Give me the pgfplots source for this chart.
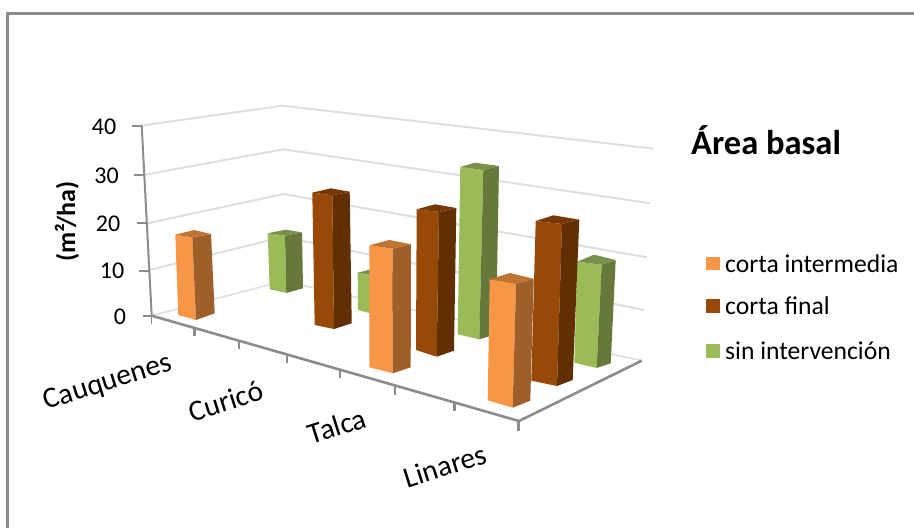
\documentclass[border=0pt]{standalone}
\usepackage{fontspec}
\setmainfont{Carlito}
\usepackage{pgfplots}
\pgfplotsset{compat=1.18}
\definecolor{oF}{HTML}{F79646}\definecolor{oS}{HTML}{9E5F2B}\definecolor{oT}{HTML}{BF7434}
\definecolor{bF}{HTML}{984807}\definecolor{bS}{HTML}{622E04}\definecolor{bT}{HTML}{763804}
\definecolor{gF}{HTML}{9BBB59}\definecolor{gS}{HTML}{66793A}\definecolor{gT}{HTML}{76924A}
\definecolor{gridc}{HTML}{DEDEDE}\definecolor{edge}{HTML}{8C8C8C}
% One bar on screen: top-back, top-left, top-mid, top-right, bottom-left, bottom-mid, bottom-right
\newcommand{\barbox}[8]{%
  \addplot[draw=none,fill=#1F] coordinates {#3 #4 #7 #6};
  \addplot[draw=none,fill=#1S] coordinates {#4 #5 #8 #7};
  \addplot[draw=none,fill=#1T] coordinates {#3 #4 #5 #2};
}
\begin{document}
\begin{tikzpicture}
\useasboundingbox (0,0) rectangle (914pt,528pt);
\begin{axis}[
  at={(0,0)},anchor=south west,
  width=914pt,height=528pt,scale only axis,
  xmin=0,xmax=914,ymin=0,ymax=528,y dir=reverse,
  hide axis,clip=true]
% chart frame
\addplot[edge,line width=3pt] coordinates {(7.2,528) (7.2,13.8) (914,13.8)};
% back walls: grid lines
\addplot[gridc,line width=2pt] coordinates {(141.7,125.5) (282.5,105.7) (653.3,148.7)};
\addplot[gridc,line width=2pt] coordinates {(145,174.7) (283.3,149.3) (650.7,203.3)};
\addplot[gridc,line width=2pt] coordinates {(147.3,223.3) (283.3,194) (646.7,257.3)};
\addplot[gridc,line width=2pt] coordinates {(149.3,270) (283,237) (644,310)};
\addplot[gridc,line width=1.6pt] coordinates {(151.7,315.7) (283,281) (641.7,360.7)};
% value axis and floor edges
\addplot[edge,line width=2pt] coordinates {(141.7,125.5) (151.7,315.7)};
\addplot[edge,line width=2.6pt] coordinates {(151.7,315.7) (519,421)};
\addplot[edge,line width=2.6pt] coordinates {(519,421) (641.7,360.7)};
% value axis ticks
\addplot[edge,line width=2pt] coordinates {(132,125.7) (141.7,125.7)};
\addplot[edge,line width=2pt] coordinates {(134,174.7) (145,174.7)};
\addplot[edge,line width=2pt] coordinates {(136.7,223.3) (147.3,223.3)};
\addplot[edge,line width=2pt] coordinates {(139,270.7) (150,270.7)};
\addplot[edge,line width=2pt] coordinates {(143.3,315.7) (152,315.7)};
% category axis ticks
\addplot[edge,line width=1.8pt] coordinates {(151.5,315.2) (151.5,324.3)};
\addplot[edge,line width=2.4pt] coordinates {(194.4,328.7) (194.4,335.5)};
\addplot[edge,line width=1.8pt] coordinates {(239,341) (239,349)};
\addplot[edge,line width=2.4pt] coordinates {(286.7,355.8) (286.7,363.2)};
\addplot[edge,line width=1.6pt] coordinates {(339.8,371) (339.8,378.4)};
\addplot[edge,line width=1.8pt] coordinates {(394.9,386.2) (394.9,394.7)};
\addplot[edge,line width=2.4pt] coordinates {(454.4,402.4) (454.4,410.9)};
\addplot[edge,line width=2.4pt] coordinates {(518.6,421) (518.6,431.2)};
% bars, back to front
\barbox{g}{(285.7,229.7)}{(267.7,233.3)}{(285,235.7)}{(302,232.3)}{(269.7,289.3)}{(286.3,293)}{(303,288.3)}
\barbox{o}{(194,230)}{(175.3,234.7)}{(192.3,237.3)}{(211,234)}{(178.3,315)}{(196,320)}{(214.7,313.3)}
\barbox{b}{(330.7,188.3)}{(312.3,192.7)}{(332.3,195.3)}{(349.7,191.7)}{(314.7,325)}{(334,329)}{(351.7,323.3)}
\barbox{g}{(376,268)}{(357.7,272.7)}{(377,276)}{(395,272)}{(358,310)}{(377,315)}{(396,310)}
\barbox{o}{(389.3,240)}{(369.3,245.3)}{(392.7,248.7)}{(411,244.3)}{(369.3,367.3)}{(392.7,373.3)}{(410.7,367.3)}
\barbox{b}{(435,204.3)}{(416.7,209.3)}{(439,212)}{(456.3,208)}{(416,350)}{(436.7,356.7)}{(454,350.7)}
\barbox{g}{(475,162.7)}{(460.3,167)}{(483.3,170)}{(499,166)}{(457.7,334.3)}{(479.3,339.3)}{(496,334.3)}
\barbox{g}{(594,254.7)}{(577.3,261.7)}{(601.7,264.7)}{(615.7,260)}{(574.3,362.7)}{(596.7,368)}{(610.7,363.3)}
\barbox{b}{(553.3,215.3)}{(535.7,221)}{(562,224)}{(579.3,219.7)}{(531.3,380.7)}{(557,386)}{(572.7,380)}
\barbox{o}{(510,273)}{(489.7,279.3)}{(516,284)}{(533.7,278.7)}{(487.7,400.3)}{(512.7,407.7)}{(530.3,400.7)}
% legend keys
\addplot[draw=none,fill=oF] coordinates {(706,256.7) (720,256.7) (720,270) (706,270)};
\addplot[draw=none,fill=bF] coordinates {(706,299) (720,299) (720,312.7) (706,312.7)};
\addplot[draw=none,fill=gF] coordinates {(706,344) (720,344) (720,358) (706,358)};
% text
\tikzset{every node/.append style={inner sep=0pt}}
\node[font=\fontsize{24}{24}\selectfont] at (axis cs:104,127) {40};
\node[font=\fontsize{24}{24}\selectfont] at (axis cs:106.5,176) {30};
\node[font=\fontsize{24}{24}\selectfont] at (axis cs:108,224) {20};
\node[font=\fontsize{24}{24}\selectfont] at (axis cs:112,271) {10};
\node[font=\fontsize{24}{24}\selectfont] at (axis cs:120,317) {0};
\node[font=\fontsize{26}{26}\selectfont\bfseries,rotate=90] at (axis cs:67,221.5) {(m²/ha)};
\node[font=\fontsize{34.5}{34.5}\selectfont\bfseries,anchor=west] at (axis cs:691,140) {Área basal};
\node[font=\fontsize{25.6}{26}\selectfont,anchor=west] at (axis cs:725,264) {corta intermedia};
\node[font=\fontsize{25.6}{26}\selectfont,anchor=west] at (axis cs:725,306) {corta final};
\node[font=\fontsize{25.6}{26}\selectfont,anchor=west] at (axis cs:725,351) {sin intervención};
\node[font=\fontsize{29.5}{30}\selectfont,rotate=17.5] at (axis cs:108,383) {Cauquenes};
\node[font=\fontsize{29.5}{30}\selectfont,rotate=17.5] at (axis cs:226,401) {Curicó};
\node[font=\fontsize{29.5}{30}\selectfont,rotate=17.5] at (axis cs:337,426) {Talca};
\node[font=\fontsize{29.5}{30}\selectfont,rotate=17.5] at (axis cs:445,466) {Linares};
\end{axis}
\end{tikzpicture}
\end{document}
